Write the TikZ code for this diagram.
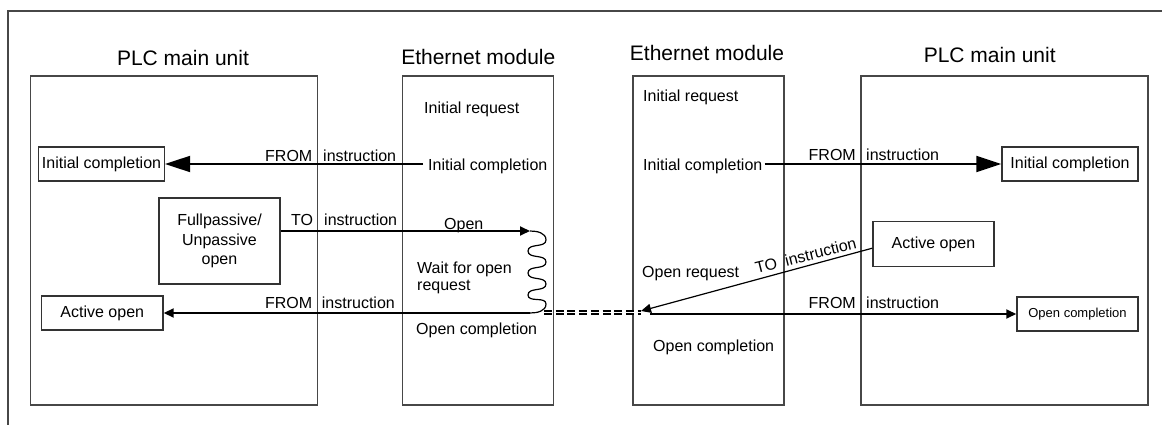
\documentclass[tikz,border=0pt]{standalone}
\usepackage{fontspec}
\setmainfont{Liberation Sans}
\usetikzlibrary{arrows.meta}
\begin{document}
\begin{tikzpicture}[x=1pt,y=-1pt,
  unit/.style={draw=black!72, line width=1.5pt, inner sep=0pt},
  lbl/.style={inner sep=0pt, font=\fontsize{16}{19}\selectfont},
  ttl/.style={inner sep=0pt, font=\fontsize{21}{25}\selectfont, anchor=base},
  ibox/.style={draw=black!80, line width=1.5pt, inner sep=0pt, align=center, font=\fontsize{16}{19}\selectfont},
  conn/.style={line width=1.8pt},
  thin/.style={line width=1.2pt},
  big/.style={-{Triangle[length=25pt,width=16pt]}},
  small/.style={-{Triangle[length=10pt,width=9pt]}},
  dbl/.style={double, double distance=1.8pt, line width=1.6pt, dash pattern=on 8pt off 3.7pt},
]
\useasboundingbox (0,0) rectangle (1162,425);
% outer frame
\draw[line width=1.6pt, black!72] (8,425) -- (8,11) -- (1162,11);

% units
\node[unit, minimum width=287pt, minimum height=329pt] (plc1) at (174.2,240.4) {};
\node[unit, minimum width=151pt, minimum height=329pt] (em1) at (478.2,240.4) {};
\node[unit, minimum width=151pt, minimum height=329pt] (em2) at (708.5,240.4) {};
\node[unit, minimum width=287pt, minimum height=329pt] (plc2) at (1004.5,240.4) {};

% titles
\node[ttl] (tplc1) at (183,66) {PLC main unit};
\node[ttl] (tem1) at (478.3,65) {Ethernet module};
\node[ttl] (tem2) at (707,61) {Ethernet module};
\node[ttl] (tplc2) at (989.7,63) {PLC main unit};

% boxes in PLC units
\node[ibox, minimum width=125.6pt, minimum height=34pt] (icb1) at (101.5,164) {Initial completion};
\node[ibox, minimum width=121pt, minimum height=86pt, font=\fontsize{16}{19.5}\selectfont] (fp) at (219.5,241) {Fullpassive/\\Unpassive\\open};
\node[ibox, minimum width=121.3pt, minimum height=34pt] (ao1) at (102.3,313) {Active open};
\node[ibox, minimum width=136pt, minimum height=34pt] (icb2) at (1070,164) {Initial completion};
\node[ibox, minimum width=121pt, minimum height=45pt] (ao2) at (933.5,244.2) {Active open};
\node[ibox, minimum width=121pt, minimum height=34pt, font=\fontsize{13}{16}\selectfont] (ocb2) at (1077.5,314) {Open completion};

% texts in Ethernet modules
\node[lbl, anchor=base west] (ir1) at (424,113.3) {Initial request};
\node[lbl, anchor=base west] (ic1) at (428,170.7) {Initial completion};
\node[lbl, anchor=base west] (op1) at (444,229) {Open};
\node[lbl, anchor=base west, align=left, font=\fontsize{16}{17.5}\selectfont] (wf1) at (417,290.7) {Wait for open\\request};
\node[lbl, anchor=base west] (oc1) at (416,334) {Open completion};
\node[lbl, anchor=base west] (ir2) at (643,101.7) {Initial request};
\node[lbl, anchor=base west] (ic2) at (643,170.7) {Initial completion};
\node[lbl, anchor=base west] (or2) at (642,277.3) {Open request};
\node[lbl, anchor=base west] (oc2) at (653,351.7) {Open completion};

% instruction labels
\node[lbl, anchor=base east] (f1a) at (312.5,161.7) {FROM};
\node[lbl, anchor=base west] (f1b) at (323,161.7) {instruction};
\node[lbl, anchor=base east] (t1a) at (313.3,225.7) {TO};
\node[lbl, anchor=base west] (t1b) at (324,225.7) {instruction};
\node[lbl, anchor=base east] (f2a) at (312.3,308.3) {FROM};
\node[lbl, anchor=base west] (f2b) at (321.7,308.3) {instruction};
\node[lbl, anchor=base east] (f3a) at (856,160.7) {FROM};
\node[lbl, anchor=base west] (f3b) at (866,160.7) {instruction};
\node[lbl, anchor=base east] (f4a) at (856,308.3) {FROM};
\node[lbl, anchor=base west] (f4b) at (866,308.3) {instruction};
\node[lbl, anchor=base west, rotate=14] (t2) at (756.7,273.5) {TO\hspace{8.7pt}instruction};

% connector helper coordinates
\coordinate (s1) at ([xshift=-5pt]ic1.west);
\coordinate (s2) at ([xshift=2pt]ic2.east);
\coordinate (wtop) at (530,231);
\coordinate (wbot) at (530,313);
\coordinate (dA) at (544,312.5);
\coordinate (dB) at (641,312.5);
\coordinate (orq) at (641,311);
\coordinate (s4) at (650,314);

% connectors
\draw[conn,big] (s1 |- icb1.east) -- (icb1.east);
\draw[conn,big] (s2 |- icb2.west) -- (icb2.west);
\draw[conn,small] ([yshift=10pt]fp.east) -- (wtop);
\draw[thin] (wtop) to[out=0,in=90] (546,240)
  to[out=-90,in=90] (528,251) to[out=-90,in=90] (546,262)
  to[out=-90,in=90] (528,273) to[out=-90,in=90] (546,284)
  to[out=-90,in=90] (528,295) to[out=-90,in=90] (546,304)
  to[out=-90,in=0] (wbot);
\draw[conn,small] (wbot) -- (ao1.east);
\draw[dbl] (dA) -- (dB);
\draw[thin,small] ([yshift=-4pt]ao2.west) -- (orq);
\draw[conn,small] (s4) -- (ocb2.west);
\end{tikzpicture}
\end{document}
